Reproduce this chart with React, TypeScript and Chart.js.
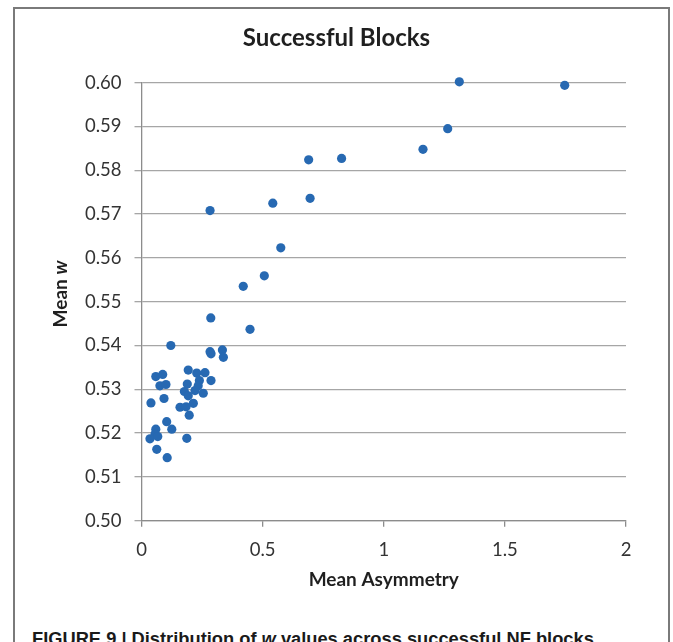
import React, { useEffect, useRef } from "react";
import { Chart, registerables } from "chart.js";

Chart.register(...registerables);

const chartTitle = "Successful Blocks";
const xAxisTitle = "Mean Asymmetry";
const yAxisTitleMain = "Mean ";
const yAxisTitleItalic = "w";
const captionText = "FIGURE 9 | Distribution of ";
const captionItalic = "w";
const captionRest = " values across successful NF blocks.";

const xTickLabels = ["0", "0.5", "1", "1.5", "2"];
const yTickLabels = ["0.50", "0.51", "0.52", "0.53", "0.54", "0.55", "0.56", "0.57", "0.58", "0.59", "0.60"];

const meanAsymmetry = [
  1.312, 1.747, 1.264, 1.162, 0.69, 0.826, 0.542, 0.696, 0.575, 0.507,
  0.42, 0.448, 0.283, 0.286, 0.121, 0.283, 0.287, 0.334, 0.338,
  0.059, 0.0875, 0.076, 0.101, 0.039, 0.093, 0.193, 0.228, 0.262, 0.239,
  0.287, 0.189, 0.234, 0.221, 0.177, 0.255, 0.193, 0.214, 0.159, 0.184,
  0.197, 0.104, 0.125, 0.059, 0.056, 0.035, 0.067, 0.187, 0.063, 0.106,
];
const meanW = [
  0.6002, 0.5994, 0.5895, 0.5848, 0.5824, 0.5827, 0.5725, 0.5736, 0.5623, 0.5559,
  0.5535, 0.5437, 0.5708, 0.5463, 0.54, 0.5386, 0.5381, 0.539, 0.5373,
  0.5329, 0.5334, 0.5308, 0.5311, 0.5269, 0.5279, 0.5344, 0.5337, 0.5338, 0.532,
  0.532, 0.5312, 0.5308, 0.5297, 0.5295, 0.5291, 0.5285, 0.5268, 0.5259, 0.526,
  0.5241, 0.5226, 0.5209, 0.5209, 0.5198, 0.5187, 0.5192, 0.5188, 0.5163, 0.5144,
];

const FONT = "Lato, 'Open Sans', sans-serif";
const CANVAS_W = 673;
const CANVAS_H = 611;

const textPlugin = {
  id: "textPlugin",
  afterDraw(chart: any) {
    const ctx = chart.ctx;
    // chart title, centred on the figure
    ctx.save();
    ctx.fillStyle = "#1f1f1f";
    ctx.textBaseline = "middle";
    ctx.textAlign = "center";
    ctx.font = `bold 24px ${FONT}`;
    ctx.fillText(chartTitle, CANVAS_W / 2, 38.5);
    ctx.restore();

    // y-axis title with italic w
    ctx.save();
    ctx.translate(61, 294);
    ctx.rotate(-Math.PI / 2);
    ctx.fillStyle = "#1f1f1f";
    ctx.textBaseline = "middle";
    ctx.textAlign = "left";
    const boldFont = `bold 19px ${FONT}`;
    const italicFont = `italic bold 19px ${FONT}`;
    ctx.font = boldFont;
    const w1 = ctx.measureText(yAxisTitleMain).width;
    ctx.font = italicFont;
    const w2 = ctx.measureText(yAxisTitleItalic).width;
    const start = -(w1 + w2) / 2;
    ctx.font = boldFont;
    ctx.fillText(yAxisTitleMain, start, 0);
    ctx.font = italicFont;
    ctx.fillText(yAxisTitleItalic, start + w1, 0);
    ctx.restore();
  },
};

export default function App() {
  const canvasRef = useRef<HTMLCanvasElement | null>(null);

  useEffect(() => {
    if (!canvasRef.current) return;
    const points = meanAsymmetry.map((x, i) => ({ x, y: meanW[i] }));
    const chart = new Chart(canvasRef.current, {
      type: "scatter",
      data: {
        datasets: [
          {
            data: points,
            backgroundColor: "#2769b2",
            borderWidth: 0,
            pointRadius: 4.6,
            pointHoverRadius: 4.6,
            clip: false,
          },
        ],
      },
      options: {
        responsive: false,
        animation: false,
        layout: { padding: { left: 0, right: 47, top: 82.7, bottom: 0 } },
        plugins: {
          legend: { display: false },
          tooltip: { enabled: false },
          title: { display: false },
        },
        scales: {
          x: {
            type: "linear",
            min: 0,
            max: 2,
            ticks: {
              stepSize: 0.5,
              callback: (_v: any, i: number) => xTickLabels[i],
              font: { family: FONT, size: 18.5 },
              color: "#333333",
              padding: 12,
              maxRotation: 0,
            },
            grid: {
              drawOnChartArea: false,
              drawTicks: true,
              tickLength: 6,
              color: "#8c8c8c",
              lineWidth: 1.3,
            },
            border: { display: true, color: "#8c8c8c", width: 1.3 },
            title: {
              display: true,
              text: xAxisTitle,
              color: "#1f1f1f",
              font: { family: FONT, size: 19, weight: "bold", lineHeight: 1.2 },
              padding: { top: 0, bottom: 19.5 },
            },
            afterFit: (s: any) => {
              s.height = CANVAS_H - 520.7;
            },
          },
          y: {
            type: "linear",
            min: 0.5,
            max: 0.6,
            ticks: {
              stepSize: 0.01,
              callback: (_v: any, i: number) => yTickLabels[i],
              font: { family: FONT, size: 18.5 },
              color: "#333333",
              padding: 13,
            },
            grid: {
              drawTicks: true,
              tickLength: 7,
              color: "#a6a6a6",
              lineWidth: 1.3,
            },
            border: { display: true, color: "#8c8c8c", width: 1.3 },
            afterFit: (s: any) => {
              s.width = 141.5;
            },
          },
        },
      } as any,
      plugins: [textPlugin],
    });
    return () => chart.destroy();
  }, []);

  return (
    <div
      style={{
        position: "absolute",
        left: 0,
        top: 0,
        width: 673,
        height: 642,
        overflow: "hidden",
        background: "#ffffff",
      }}
    >
      <div
        style={{
          position: "absolute",
          left: 13,
          top: 7,
          width: 657,
          height: 720,
          boxSizing: "border-box",
          border: "2px solid #7a7a7a",
        }}
      />
      <canvas
        ref={canvasRef}
        width={CANVAS_W}
        height={CANVAS_H}
        style={{ position: "absolute", left: 0, top: 0, width: CANVAS_W, height: CANVAS_H }}
      />
      <div
        style={{
          position: "absolute",
          left: 32,
          top: 628,
          whiteSpace: "nowrap",
          fontFamily: "'Liberation Sans', Arial, sans-serif",
          fontWeight: "bold",
          fontSize: 18.3,
          lineHeight: "22px",
          color: "#1a1a1a",
        }}
      >
        {captionText}
        <i>{captionItalic}</i>
        {captionRest}
      </div>
    </div>
  );
}
